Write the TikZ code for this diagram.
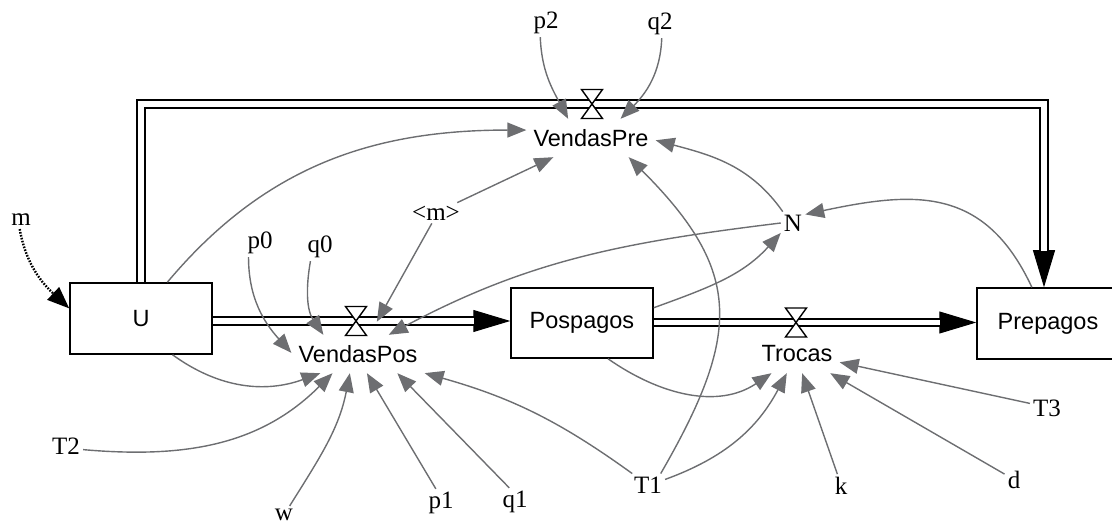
\documentclass[tikz,border=0pt]{standalone}
\usepackage{fontspec}
\setmainfont{Liberation Serif}
\setsansfont{Liberation Sans}
\usetikzlibrary{arrows.meta}
\definecolor{linkgray}{RGB}{109,110,113}

\begin{document}
\begin{tikzpicture}[x=1pt,y=-1pt,>={Triangle[length=19pt,width=15pt]},
	stock/.style={draw,line width=1.5pt,minimum width=142pt,minimum height=71pt,font=\sffamily\fontsize{23.5}{28}\selectfont},
	flow/.style={inner xsep=7pt,minimum height=38pt,font=\sffamily\fontsize{23.5}{28}\selectfont},
	var/.style={inner sep=3pt,font=\fontsize{25}{30}\selectfont},
	link/.style={->,draw=linkgray,line width=1.4pt},
	pipe/.style={line width=1.8pt,double=white,double distance=5.5pt,shorten >=36pt},
	pipehead/.style={-{Triangle[length=37pt,width=22pt]},line width=1pt},
	valve/.style={draw,fill=white,line width=1.4pt}]
	\useasboundingbox (0,0) rectangle (1112,526);

	\node[stock] (U) at (141,318.5) {U};
	\node[stock,minimum height=70pt] (Pos) at (582,323) {Pospagos};
	\node[stock] (Pre) at (1048,323.5) {Prepagos};
	\node[flow] (vpos) at (358,354) {VendasPos};
	\node[flow] (vpre) at (591,138) {VendasPre};
	\node[flow] (troc) at (797,354) {Trocas};
	\coordinate (vv1) at (356,321);
	\coordinate (vv2) at (796,322.5);
	\coordinate (vv3) at (592,104);
	\coordinate (corner) at (1044,104);

	\node[var] (m) at (21,220) {m};
	\node[var] (mm) at (436,213) {<m>};
	\node[var] (N) at (793,223) {N};
	\node[var] (p0) at (260,243) {p0};
	\node[var] (q0) at (320,247) {q0};
	\node[var] (p2) at (546,23) {p2};
	\node[var] (q2) at (660,24) {q2};
	\node[var] (T2) at (66,446) {T2};
	\node[var] (w) at (284,515) {w};
	\node[var] (p1) at (441,503) {p1};
	\node[var] (q1) at (515,502) {q1};
	\node[var] (T1) at (648,485) {T1};
	\node[var] (k) at (841,486) {k};
	\node[var] (d) at (1014,480) {d};
	\node[var] (T3) at (1047,408) {T3};

	\draw[pipehead] (U.east |- vv1) -- (Pos.west |- vv1);
	\draw[pipe] (U.east |- vv1) -- (Pos.west |- vv1);
	\draw[pipehead] (Pos.east |- vv2) -- (Pre.west |- vv2);
	\draw[pipe] (Pos.east |- vv2) -- (Pre.west |- vv2);
	\draw[pipehead] (U.north) |- (corner) -- (corner |- Pre.north);
	\draw[pipe] (U.north) |- (corner) -- (corner |- Pre.north);
	\foreach \v in {vv1,vv2,vv3}
		\draw[valve] (\v) ++(-10.5,-14.5) -- ++(21,0) -- ++(-21,29) -- ++(21,0) -- cycle;

	\draw[->,line width=2.4pt,dash pattern=on 1.6pt off 1.4pt,>={Triangle[length=22pt,width=17pt]}] (m.262) to [out=-80,in=137] (U.172);

	\draw[link] (U.54) to [out=50,in=180] (vpre.173);
	\draw[link] (mm.26) -- (vpre.207);
	\draw[link] (p2.248) to [out=-88,in=118] (vpre.140);
	\draw[link] (q2.277) to [out=-92,in=45] (vpre.33);
	\draw[link] (N.132) to [out=125,in=-15] (vpre.358);
	\draw[link] (T1.42) to [out=60,in=-45,looseness=1.3] (vpre.333);
	\draw[link] (Pos.12) to [out=20,in=-132] (N.219);
	\draw[link] (Pre.114) to [out=115,in=12,looseness=1.2] (N.35);
	\draw[link] (N.180) to [out=-173,in=28] (vpos.32);
	\draw[link,shorten >=15pt] (mm.248) -- (vpos.59);
	\draw[link] (p0.231) to [out=-90,in=132] (vpos.179);
	\draw[link] (q0.236) to [out=-100,in=124] (vpos.151);
	\draw[link] (U.311) to [out=-36,in=-160] (vpos.207);
	\draw[link] (T2.348) to [out=-5,in=-135] (vpos.217);
	\draw[link] (w.58) to [out=58,in=-101] (vpos.247);
	\draw[link] (p1.110) -- (vpos.295);
	\draw[link] (q1.112) -- (vpos.334);
	\draw[link] (T1.144) to [bend right=10] (vpos.344);
	\draw[link] (Pos.306) to [out=-35,in=-146] (troc.217);
	\draw[link] (T1.18) to [out=20,in=-118] (troc.242);
	\draw[link] (k.107) -- (troc.285);
	\draw[link] (d.148) -- (troc.330);
	\draw[link] (T3.165) -- (troc.349);
\end{tikzpicture}
\end{document}
